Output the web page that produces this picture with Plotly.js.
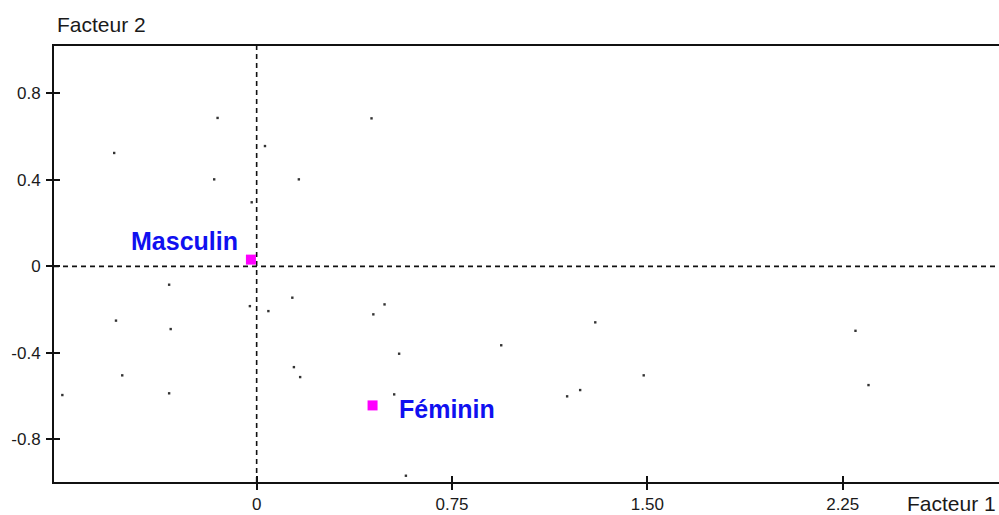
<!DOCTYPE html>
<html>
<head>
<meta charset="utf-8">
<script src="https://cdn.plot.ly/plotly-3.0.1.min.js"></script>
<style>html,body{margin:0;padding:0;background:#fff;}#chart{width:999px;height:515px;}</style>
</head>
<body>
<div id="chart"></div>
<script>
// Supplementary modality points (Facteur 1, Facteur 2)
const pointsX = [-0.547, -0.150, 0.032, -0.163, 0.162, 0.441, -0.019, -0.336, 0.137, -0.026,
                 0.045, -0.540, -0.330, 0.143, 0.167, -0.516, -0.746, -0.336, 0.491, 0.448,
                 0.547, 0.939, 1.300, 1.486, 0.528, 0.573, 1.192, 1.242, 2.299, 2.349];
const pointsY = [0.524, 0.686, 0.556, 0.402, 0.402, 0.684, 0.296, -0.085, -0.145, -0.184,
                 -0.207, -0.251, -0.290, -0.466, -0.512, -0.504, -0.595, -0.587, -0.176, -0.222,
                 -0.404, -0.365, -0.259, -0.504, -0.592, -0.968, -0.601, -0.572, -0.298, -0.549];

// Active categories
const categories = ["Masculin", "Féminin"];
const catX = [-0.022, 0.445];
const catY = [0.031, -0.643];

// Axis ticks
const xTickVals = [0, 0.75, 1.5, 2.25];
const xTickText = ["0", "0.75", "1.50", "2.25"];
const yTickVals = [0.8, 0.4, 0, -0.4, -0.8];
const yTickText = ["0.8", "0.4", "0", "-0.4", "-0.8"];

const xTitle = "Facteur 1";
const yTitle = "Facteur 2";

const FONT = "Liberation Sans, Arial, sans-serif";
const xRange = [-0.778, 2.85];
const yRange = [-0.997, 1.0185];

const traces = [
  {
    type: "scatter", mode: "markers", x: pointsX, y: pointsY,
    marker: {size: 2.4, color: "#333333", symbol: "square"},
    hoverinfo: "skip", showlegend: false
  },
  {
    type: "scatter", mode: "markers", x: catX, y: catY,
    marker: {size: 10, color: "#ff00ff", symbol: "square", line: {width: 0}},
    hoverinfo: "skip", showlegend: false
  },
  {
    type: "scatter", mode: "markers", x: catX, y: catY, xaxis: "x2", yaxis: "y2",
    marker: {size: 1, opacity: 0}, hoverinfo: "skip", showlegend: false
  }
];

const labelOffsets = [
  {xanchor: "right", xshift: -11, yshift: 19},
  {xanchor: "left", xshift: 24, yshift: -4}
];

const annotations = categories.map((c, i) => ({
  x: catX[i], y: catY[i], xref: "x", yref: "y", text: "<b>" + c + "</b>",
  showarrow: false, xanchor: labelOffsets[i].xanchor, yanchor: "middle",
  xshift: labelOffsets[i].xshift, yshift: labelOffsets[i].yshift,
  font: {family: FONT, size: 25, color: "#1010f0"}
}));
annotations.push({
  text: yTitle, xref: "paper", yref: "paper", x: 0, y: 1, xanchor: "left", yanchor: "bottom",
  xshift: 1, yshift: 8, showarrow: false, font: {family: FONT, size: 21, color: "#1a1a1a"}
});
annotations.push({
  text: xTitle, xref: "paper", yref: "paper", x: 1, y: 0, xanchor: "right", yanchor: "top",
  xshift: -2, yshift: -9, borderpad: 0, showarrow: false,
  font: {family: FONT, size: 21, color: "#1a1a1a"}
});

const axisCommon = {
  showgrid: false, zeroline: false, linecolor: "#111111", linewidth: 2,
  ticks: "outside", ticklen: 6, tickwidth: 2, tickcolor: "#111111",
  tickfont: {family: FONT, size: 17, color: "#1a1a1a"}, fixedrange: true
};

const layout = {
  width: 999, height: 515,
  margin: {l: 54, r: 0, t: 46, b: 33, pad: 0},
  paper_bgcolor: "#ffffff", plot_bgcolor: "#ffffff",
  showlegend: false,
  xaxis: Object.assign({}, axisCommon, {
    range: xRange, tickmode: "array", tickvals: xTickVals, ticktext: xTickText,
    showline: true, mirror: true
  }),
  yaxis: Object.assign({}, axisCommon, {
    range: yRange, tickmode: "array", tickvals: yTickVals, ticktext: yTickText,
    showline: true, mirror: false, ticklabelstandoff: 2
  }),
  xaxis2: {
    overlaying: "x", anchor: "y", side: "bottom", range: xRange, showgrid: false, zeroline: false,
    showline: false, ticks: "inside", ticklen: 6, tickwidth: 2, tickcolor: "#111111",
    tickmode: "array", tickvals: xTickVals, showticklabels: false, fixedrange: true
  },
  yaxis2: {
    overlaying: "y", anchor: "x", side: "left", range: yRange, showgrid: false, zeroline: false,
    showline: false, ticks: "inside", ticklen: 6, tickwidth: 2, tickcolor: "#111111",
    tickmode: "array", tickvals: yTickVals, showticklabels: false, fixedrange: true
  },
  shapes: [
    {type: "line", xref: "x", yref: "paper", x0: 0, x1: 0, y0: 0, y1: 1,
     line: {color: "#111111", width: 1.6, dash: "5px,4px"}, layer: "below"},
    {type: "line", xref: "paper", yref: "y", x0: 0, x1: 1, y0: 0, y1: 0,
     line: {color: "#111111", width: 1.6, dash: "5px,4px"}, layer: "below"}
  ],
  annotations: annotations
};

Plotly.newPlot("chart", traces, layout, {displayModeBar: false, staticPlot: true});
</script>
</body>
</html>
